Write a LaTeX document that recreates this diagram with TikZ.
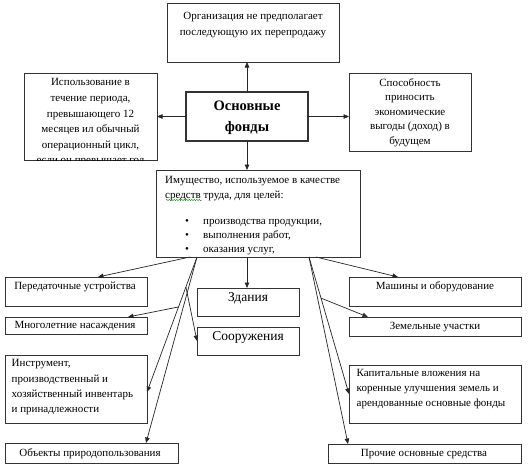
\documentclass[tikz,border=0pt]{standalone}
\usepackage{fontspec}
\setmainfont{Liberation Serif}
\usetikzlibrary{arrows.meta,calc,decorations.pathmorphing}
\begin{document}
\begin{tikzpicture}[x=1pt,y=-1pt,
  box/.style={draw=black!80, line width=0.8pt, anchor=north west, inner sep=0pt, outer sep=0pt},
  txt/.style={inner sep=0pt, font=\fontsize{11}{15.2}\selectfont, align=center},
  big/.style={inner sep=0pt, font=\fontsize{13.5}{16}\selectfont},
  arr/.style={-{Triangle[length=5.5pt,width=4.5pt]}, line width=0.7pt, draw=black!85}]
\useasboundingbox[fill=white] (0,0) rectangle (530,472);

% boxes
\node[box, minimum width=172pt, minimum height=59pt] (top) at (167,3) {};
\node[box, minimum width=133pt, minimum height=87pt] (left) at (24,73) {};
\node[box, line width=1.1pt, minimum width=122pt, minimum height=49pt] (main) at (186,92) {};
\node[box, minimum width=122pt, minimum height=78pt] (right) at (349,73) {};
\node[box, minimum width=204pt, minimum height=87pt] (prop) at (156,170) {};
\node[box, minimum width=142pt, minimum height=29pt] (per) at (5,277) {};
\node[box, minimum width=142pt, minimum height=17pt] (mn) at (5,317) {};
\node[box, minimum width=102pt, minimum height=28pt] (zd) at (197,288) {};
\node[box, minimum width=102pt, minimum height=28pt] (soor) at (197,327) {};
\node[box, minimum width=172pt, minimum height=29pt] (mash) at (349,277) {};
\node[box, minimum width=172pt, minimum height=19pt] (zem) at (349,317) {};
\node[box, minimum width=142pt, minimum height=68pt] (instr) at (5,355) {};
\node[box, minimum width=173pt, minimum height=20pt] (obj) at (5,443) {};
\node[box, minimum width=172pt, minimum height=58pt] (kap) at (349,365) {};
\node[box, minimum width=193pt, minimum height=19pt] (proch) at (328,444) {};

% texts
\node[txt, font=\fontsize{11}{16}\selectfont, anchor=north] (ttop) at (253,12) {Организация не предполагает\\последующую их перепродажу};
\begin{scope}
  \clip (left.north west) rectangle (left.south east);
  \node[txt, font=\fontsize{11}{15.6}\selectfont, anchor=north] (tleft) at (90.5,78.5) {Использование в\\течение периода,\\превышающего 12\\месяцев ил обычный\\операционный цикл,\\если он превышает год};
\end{scope}
\node[inner sep=0pt, font=\fontsize{14.5}{21}\selectfont\bfseries, align=center, anchor=north] (tmain) at (247,100.5) {Основные\\фонды};
\node[txt, font=\fontsize{11}{14.6}\selectfont, anchor=north] (tright) at (410,78) {Способность\\приносить\\экономические\\выгоды (доход) в\\будущем};
\node[txt, font=\fontsize{11}{14.5}\selectfont, align=left, anchor=north west] (tprop) at (165,176.5) {Имущество, используемое в качестве\\средств труда, для целей:};
\draw[green!60!black, line width=0.4pt, decorate, decoration={snake, amplitude=0.7pt, segment length=2.5pt}] (166,200) -- (202,200);
\node[txt, anchor=base west] (b1) at (185,224) {\makebox[18pt][l]{•}производства продукции,};
\node[txt, anchor=base west] (b2) at (185,238.5) {\makebox[18pt][l]{•}выполнения работ,};
\node[txt, anchor=base west] (b3) at (185,252.5) {\makebox[18pt][l]{•}оказания услуг,};

\node[txt, anchor=base] (tper) at (75,289.5) {Передаточные устройства};
\node[txt, anchor=base] (tmn) at (75,328.5) {Многолетние насаждения};
\node[big, anchor=base] (tzd) at (248,301.5) {Здания};
\node[big, anchor=base] (tsoor) at (248,340.5) {Сооружения};
\node[txt, anchor=base] (tmash) at (435,289.5) {Машины и оборудование};
\node[txt, anchor=base] (tzem) at (435,329) {Земельные участки};
\node[txt, align=left, anchor=north west] (tinstr) at (11.5,359.5) {Инструмент,\\производственный и\\хозяйственный инвентарь\\и принадлежности};
\node[txt, anchor=base] (tobj) at (90,456) {Объекты природопользования};
\node[txt, align=left, anchor=north west] (tkap) at (356.5,369) {Капитальные вложения на\\коренные улучшения земель и\\арендованные основные фонды};
\node[txt, anchor=base] (tproch) at (424,456.5) {Прочие основные средства};

% connectors from the main box
\draw[arr] (main.north) -- (main.north |- top.south);
\draw[arr] (main.west) -- (main.west -| left.east);
\draw[arr] (main.east) -- (main.east -| right.west);
\draw[arr] (main.south) -- (main.south |- prop.north);

% start points on the property box
\coordinate (pA) at ([xshift=34pt]prop.south west);
\coordinate (pB) at ([xshift=41pt]prop.south west);
\coordinate (pC) at (main.south |- prop.south);
\coordinate (pD) at ([xshift=153pt]prop.south west);
\coordinate (pE) at ([xshift=160pt]prop.south west);
% end points
\coordinate (ePer) at ([xshift=93pt]per.north west);
\coordinate (eMn) at ([xshift=123pt]mn.north west);
\coordinate (eInstr) at ([yshift=-3pt]instr.east);
\coordinate (eObj) at ([xshift=141pt]obj.north west);
\coordinate (eMash) at ([xshift=49pt]mash.north west);
\coordinate (eZem) at ([xshift=19pt]zem.north west);
\coordinate (eProch) at ([xshift=20pt]proch.north west);
% branch points
\coordinate (sMn) at ($(pB)!0.37!(eInstr)$);
\coordinate (sSoor) at ($(pB)!0.222!(eInstr)$);
\coordinate (sZem) at ($(pD)!0.3!(kap.west)$);

\draw[arr] (pA) -- (ePer);
\draw[arr] (pB) -- (eInstr);
\draw[arr] (pB) -- (eObj);
\draw[arr] (sMn) -- (eMn);
\draw[arr] (sSoor) -- (soor.west);
\draw[arr] (pC) -- (pC |- zd.north);
\draw[arr] (pE) -- (eMash);
\draw[arr] (pD) -- (kap.west);
\draw[arr] (pD) -- (eProch);
\draw[arr] (sZem) -- (eZem);
\end{tikzpicture}
\end{document}
